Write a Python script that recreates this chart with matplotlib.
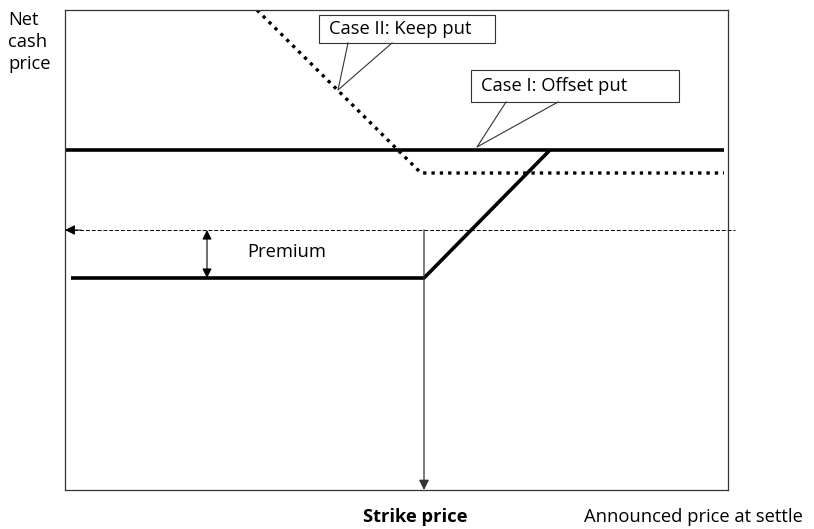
import matplotlib.pyplot as plt

plt.rcParams['font.family'] = ['Open Sans', 'DejaVu Sans']

# price units on both axes (announced price -> x, net cash price -> y)
x_max, y_max = 663, 480
strike = 359
premium_top = 260          # cash price level without the put
floor = 212                # floor price = level - premium

# Case I: offset put
case1_x = [0, 659]
case1_y = [340, 340]

# put floor line that rises to meet Case I
floor_x = [6, strike, 485]
floor_y = [floor, floor, 340]

# Case II: keep put
case2_x = [192, 356, 659]
case2_y = [480, 317, 317]

premium_arrow_x = 142
fs = 13.2

fig = plt.figure(figsize=(8.14, 5.29), dpi=100)
ax = fig.add_axes([65 / 814, 39 / 529, 663 / 814, 480 / 529])
ax.set_xlim(0, x_max)
ax.set_ylim(0, y_max)
ax.set_xticks([])
ax.set_yticks([])
for s in ax.spines.values():
    s.set_linewidth(0.9)
    s.set_color('#333333')

ax.plot(case1_x, case1_y, color='black', lw=2.6, solid_capstyle='butt')
ax.plot(floor_x, floor_y, color='black', lw=2.6, solid_capstyle='butt')
ax.plot(case2_x, case2_y, color='black', lw=2.4, linestyle=(0, (1, 1.5)))

# dashed level line with arrow at the left edge
ax.plot([3, 670], [premium_top, premium_top], color='black', lw=0.7,
        linestyle=(0, (4, 2)), clip_on=False)
ax.annotate('', xy=(0, premium_top), xytext=(16, premium_top),
            arrowprops=dict(arrowstyle='-|>', color='black', lw=0.7,
                            mutation_scale=15, shrinkA=0, shrinkB=0))

# strike price drop line
ax.annotate('', xy=(strike, 0), xytext=(strike, premium_top),
            arrowprops=dict(arrowstyle='-|>', color='#333333', lw=0.9,
                            mutation_scale=15, shrinkA=0, shrinkB=0))

# premium double arrow
ax.annotate('', xy=(premium_arrow_x, floor), xytext=(premium_arrow_x, premium_top),
            arrowprops=dict(arrowstyle='<|-|>', color='black', lw=0.8,
                            mutation_scale=14, shrinkA=0, shrinkB=0))
ax.text(222, 238, 'Premium', fontsize=fs, ha='center', va='center')


def callout(x0, x1, y0, y1, base, tip, label):
    ax.add_patch(plt.Rectangle((x0, y0), x1 - x0, y1 - y0, fc='white',
                               ec='#333333', lw=0.8, zorder=5))
    ax.plot([base[0], tip[0], base[1]], [y0, tip[1], y0], color='#333333',
            lw=0.8, zorder=5)
    ax.text(x0 + 10, (y0 + y1) / 2, label, fontsize=fs, ha='left',
            va='center', zorder=6)


callout(254, 430, 447, 475, (283, 327), (273, 400), 'Case II: Keep put')
callout(406, 614, 388, 420, (441, 493), (412, 343), 'Case I: Offset put')

fig.text(8 / 814, 1 - 11 / 529, 'Net\ncash\nprice', fontsize=fs, ha='left',
         va='top', linespacing=1.3)
fig.text(415 / 814, 1 - 517 / 529, 'Strike price', fontsize=fs,
         fontweight='bold', ha='center', va='center')
fig.text(693 / 814, 1 - 517 / 529, 'Announced price at settle', fontsize=fs,
         ha='center', va='center')

fig.savefig('out.png', dpi=100)
